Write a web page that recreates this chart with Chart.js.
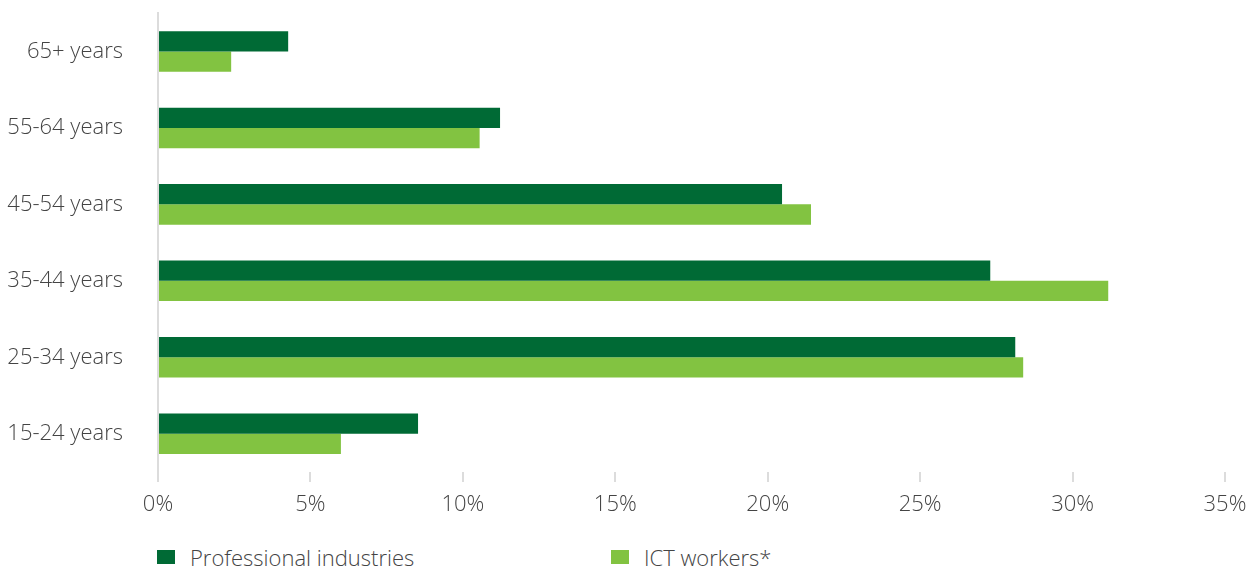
<!DOCTYPE html>
<html>
<head>
<meta charset="utf-8">
<script src="https://cdn.jsdelivr.net/npm/chart.js@4"></script>
<style>
    html, body { margin: 0; padding: 0; background: #fff; }
    #wrap { position: relative; width: 1258px; height: 570px; overflow: hidden; }
    #box { position: absolute; left: 0; top: 0; width: 1258px; height: 525px; }
    .legend-item {
        position: absolute; top: 542px; display: flex; align-items: center;
        font-family: "Open Sans", sans-serif; font-weight: 300; font-size: 22px; color: #444;
    }
    .legend-item span.sw { display: inline-block; width: 18px; height: 14px; margin-right: 15px; }
</style>
</head>
<body>
<div id="wrap">
    <div id="box"><canvas id="ageChart"></canvas></div>
    <div class="legend-item" style="left:157px"><span class="sw" style="background:#006a35"></span>Professional industries</div>
    <div class="legend-item" style="left:611px"><span class="sw" style="background:#82c341"></span>ICT workers*</div>
</div>
<script>
// Age profile data (percent of workers)
const ageGroups = ['65+ years', '55-64 years', '45-54 years', '35-44 years', '25-34 years', '15-24 years'];
const professionalShare = [4.27, 11.22, 20.47, 27.3, 28.12, 8.53];
const ictShare = [2.4, 10.55, 21.42, 31.17, 28.38, 6.0];
const axisTicks = [0, 5, 10, 15, 20, 25, 30, 35];

const labelFont = { family: 'Open Sans', size: 22, weight: '300' };

const ctx = document.getElementById('ageChart').getContext('2d');
new Chart(ctx, {
    type: 'bar',
    data: {
        labels: ageGroups,
        datasets: [{
            label: 'Professional industries',
            data: professionalShare,
            backgroundColor: '#006a35',
            categoryPercentage: 0.53,
            barPercentage: 1
        }, {
            label: 'ICT workers*',
            data: ictShare,
            backgroundColor: '#82c341',
            categoryPercentage: 0.53,
            barPercentage: 1
        }]
    },
    options: {
        indexAxis: 'y',
        responsive: true,
        maintainAspectRatio: false,
        animation: false,
        layout: { padding: { top: 12, right: 33, left: 0, bottom: 0 } },
        plugins: {
            legend: { display: false },
            tooltip: { enabled: false }
        },
        scales: {
            x: {
                min: 0,
                max: 35,
                afterBuildTicks: axis => { axis.ticks = axisTicks.map(v => ({ value: v })); },
                afterFit: axis => { axis.height = 53; },
                grid: {
                    drawOnChartArea: false,
                    drawTicks: true,
                    tickLength: 10,
                    color: '#dcdcdc',
                    lineWidth: 2
                },
                border: { display: false },
                ticks: {
                    padding: 10,
                    color: '#444',
                    font: labelFont,
                    callback: v => v + '%'
                }
            },
            y: {
                afterFit: axis => { axis.width = 158; },
                // invisible tick marks keep the labels away from the axis line
                grid: { drawOnChartArea: false, drawTicks: true, tickLength: 35, color: 'rgba(0,0,0,0)' },
                border: { display: true, color: '#dcdcdc', width: 2 },
                ticks: {
                    padding: 0,
                    color: '#444',
                    font: labelFont
                }
            }
        }
    }
});
</script>
</body>
</html>
